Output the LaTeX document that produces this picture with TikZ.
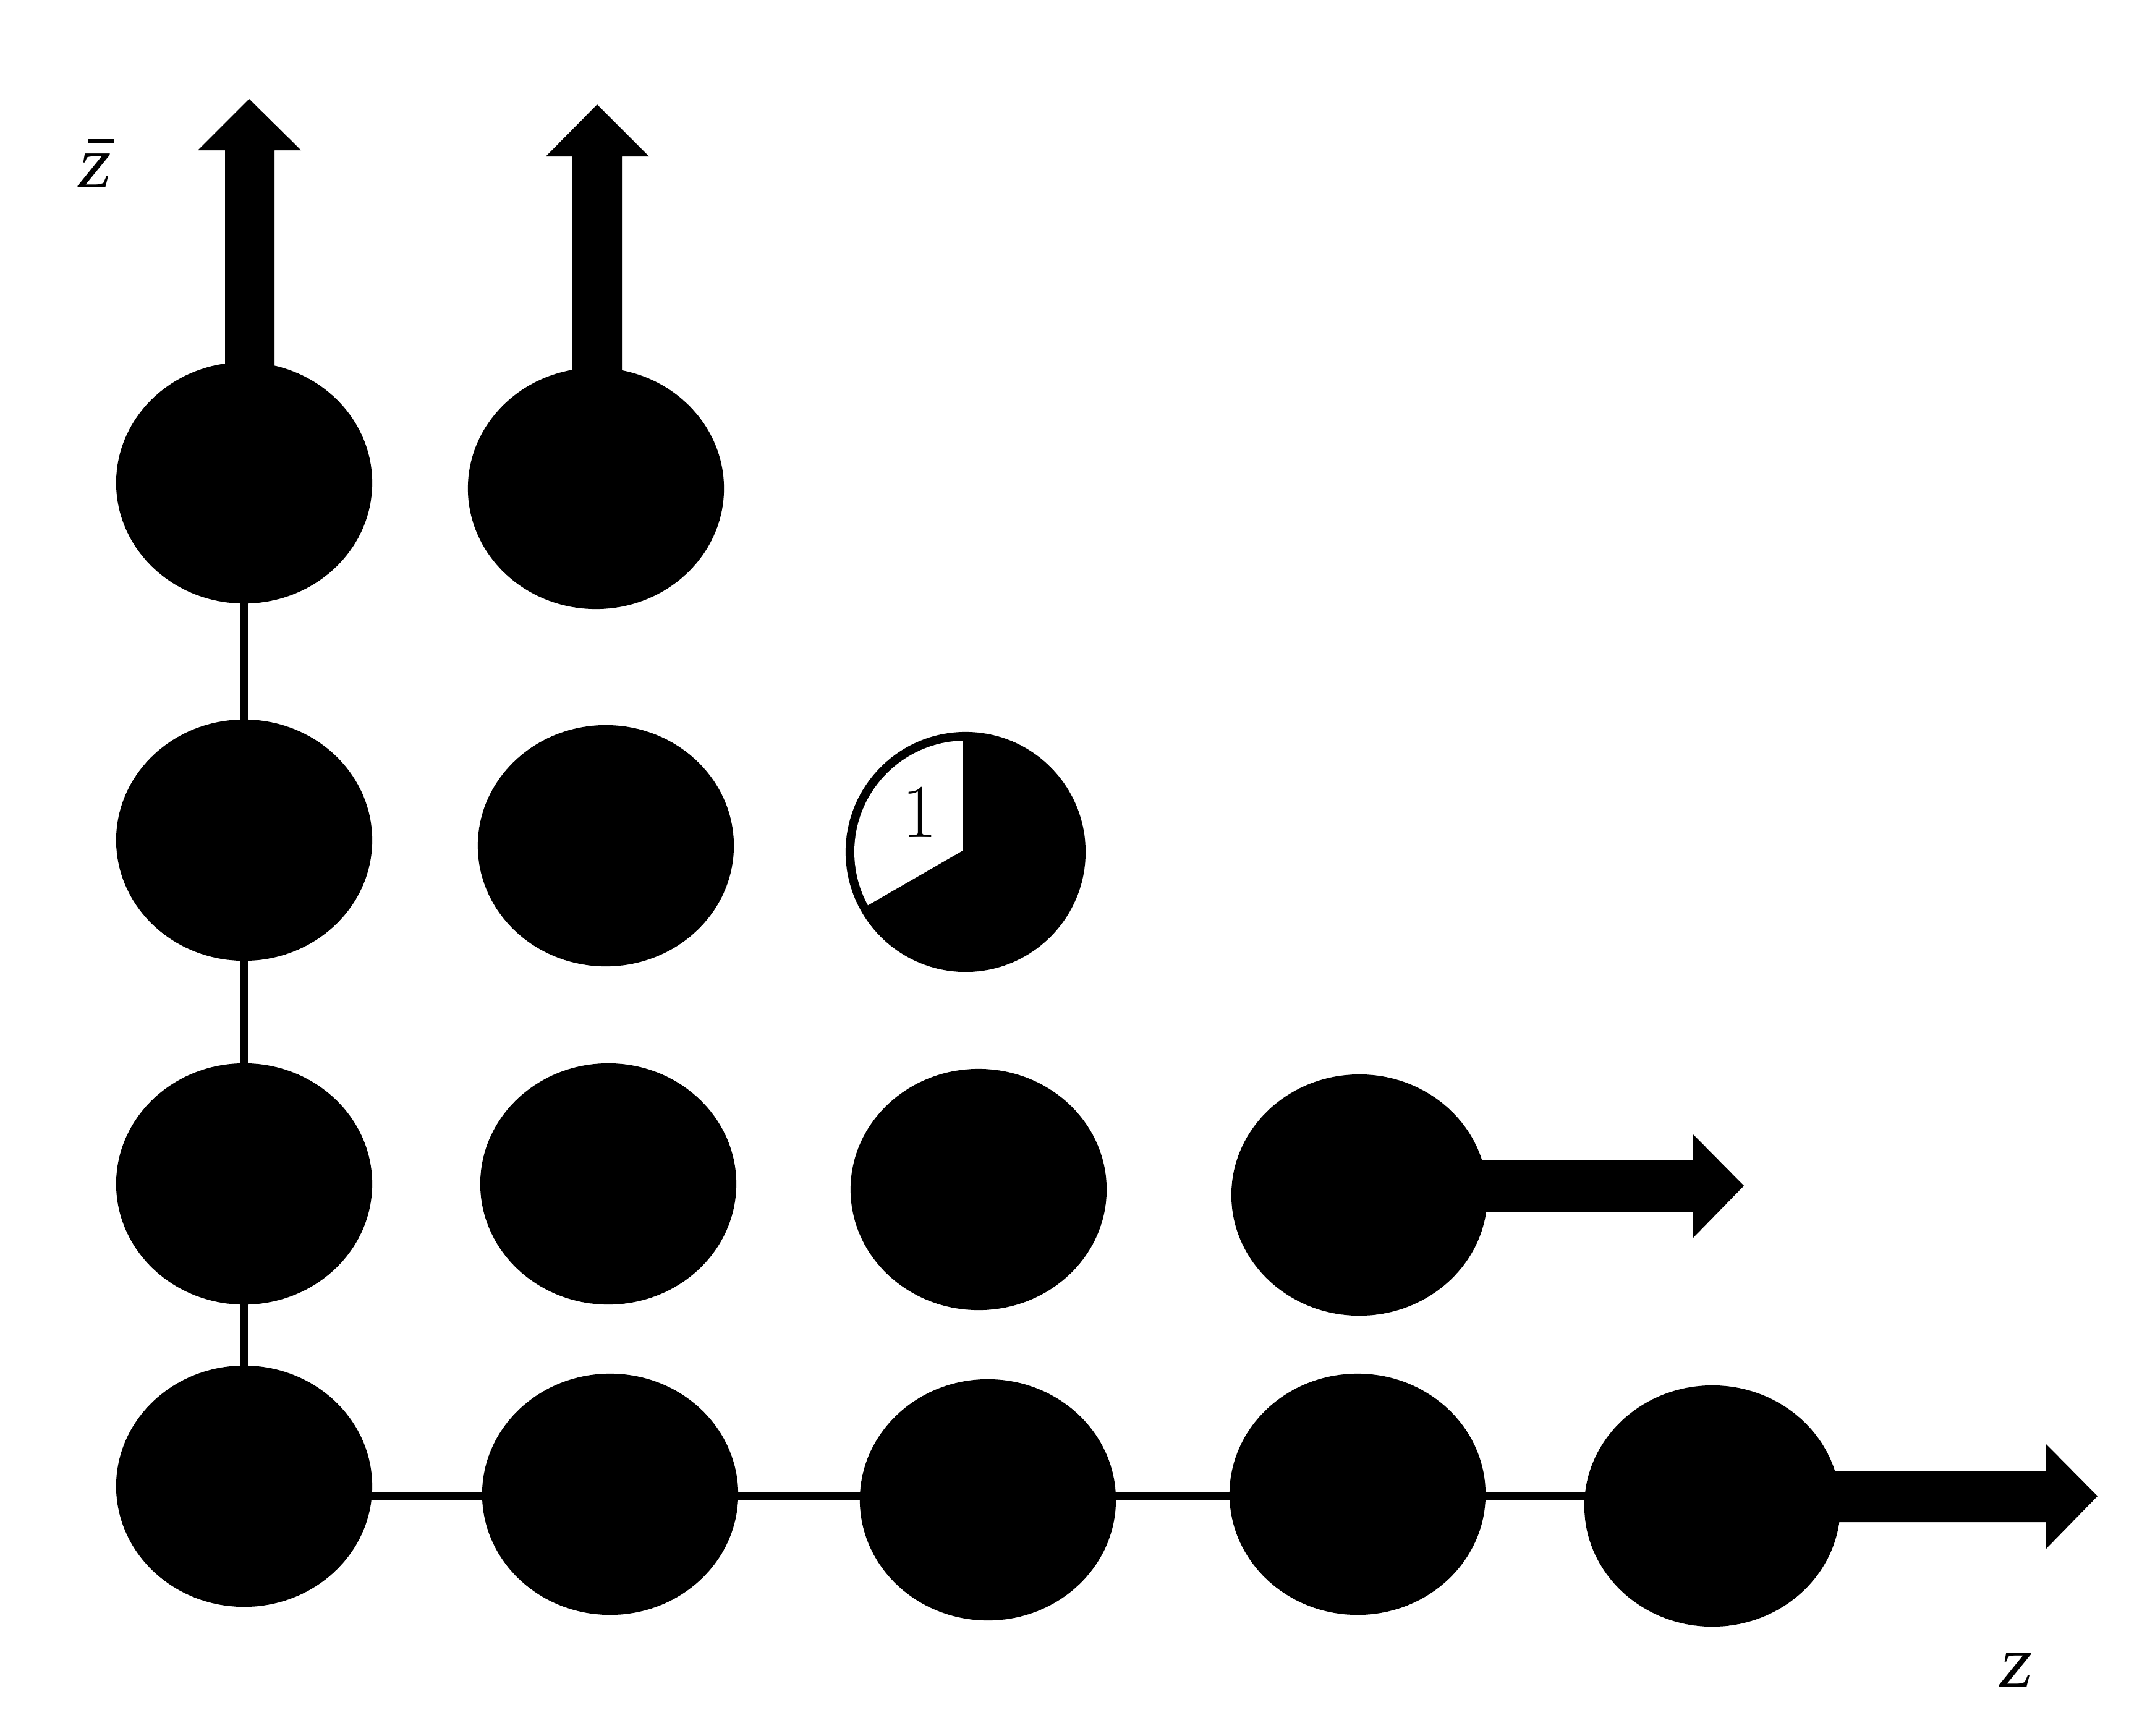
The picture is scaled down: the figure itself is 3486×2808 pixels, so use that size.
\documentclass[tikz,border=0pt]{standalone}
\usepackage{fontspec}
\newfontfamily\labfont[FakeSlant=0.18]{Liberation Serif}
\usetikzlibrary{shapes.geometric,backgrounds}
\begin{document}
\begin{tikzpicture}[x=0.01cm,y=-0.01cm,
  blob/.style={ellipse, fill=black, inner sep=0pt, minimum width=4.14cm, minimum height=3.9cm},
  piebase/.style={circle, fill=black, inner sep=0pt, minimum size=3.88cm},
  thinline/.style={line width=0.12cm, draw=black},
  bigarrow/.style={fill=black},
  lab/.style={font=\fontsize{35}{42}\selectfont, inner sep=0pt, anchor=base},
  zlabel/.style={font=\labfont\fontsize{34}{40}\selectfont, inner sep=0pt, anchor=base}]
\useasboundingbox (0,0) rectangle (3486,2808);
% row 1
\node[blob] (r1c1) at (395,781) {};
\node[blob] (r1c2) at (964,790) {};
% row 2
\node[blob] (r2c1) at (395,1359) {};
\node[blob] (r2c2) at (980,1368) {};
\node[piebase] (p) at (1562,1378) {};
% row 3
\node[blob] (r3c1) at (395,1915) {};
\node[blob] (r3c2) at (984,1915) {};
\node[blob] (r3c3) at (1583,1924) {};
\node[blob] (r3c4) at (2199,1933) {};
% row 4
\node[blob] (r4c1) at (395,2404) {};
\node[blob] (r4c2) at (987,2417) {};
\node[blob] (r4c3) at (1598,2426) {};
\node[blob] (r4c4) at (2196,2417) {};
\node[blob] (r4c5) at (2770,2436) {};
% thin connectors behind
\coordinate (hline) at (0,2420);
\begin{pgfonlayer}{background}
\draw[thinline] (r1c1.center) -- (r4c1.center);
\draw[thinline] (hline -| r4c1.center) -- (hline -| r4c5.center);
\end{pgfonlayer}
% block arrows
\fill[bigarrow] (364,600) -- (364,243) -- (320,243) -- (403,160) -- (487,243) -- (444,243) -- (444,600) -- cycle;
\fill[bigarrow] (925,610) -- (925,253) -- (883,253) -- (966,169) -- (1050,253) -- (1006,253) -- (1006,610) -- cycle;
\fill[bigarrow] (2250,1877) -- (2739,1877) -- (2739,1835) -- (2821,1918) -- (2739,2002) -- (2739,1960) -- (2250,1960) -- cycle;
\fill[bigarrow] (2820,2380) -- (3310,2380) -- (3310,2336) -- (3393,2420) -- (3310,2505) -- (3310,2462) -- (2820,2462) -- cycle;
% white sector of the partial circle
\begin{scope}
\clip (p.center) circle[radius=180];
\fill[white] (1557,1376) -- (1557,1100) -- (1297,1100) -- (1297,1526) -- cycle;
\end{scope}
\node[lab] (one) at (1488,1354) {1};
% axis labels
\node[zlabel] (zbar) at (149,303) {\rlap{\hspace{0.17em}\rule[0.6em]{0.35em}{0.05em}}z};
\node[zlabel] (zlab) at (3257,2728) {z};
\end{tikzpicture}
\end{document}
